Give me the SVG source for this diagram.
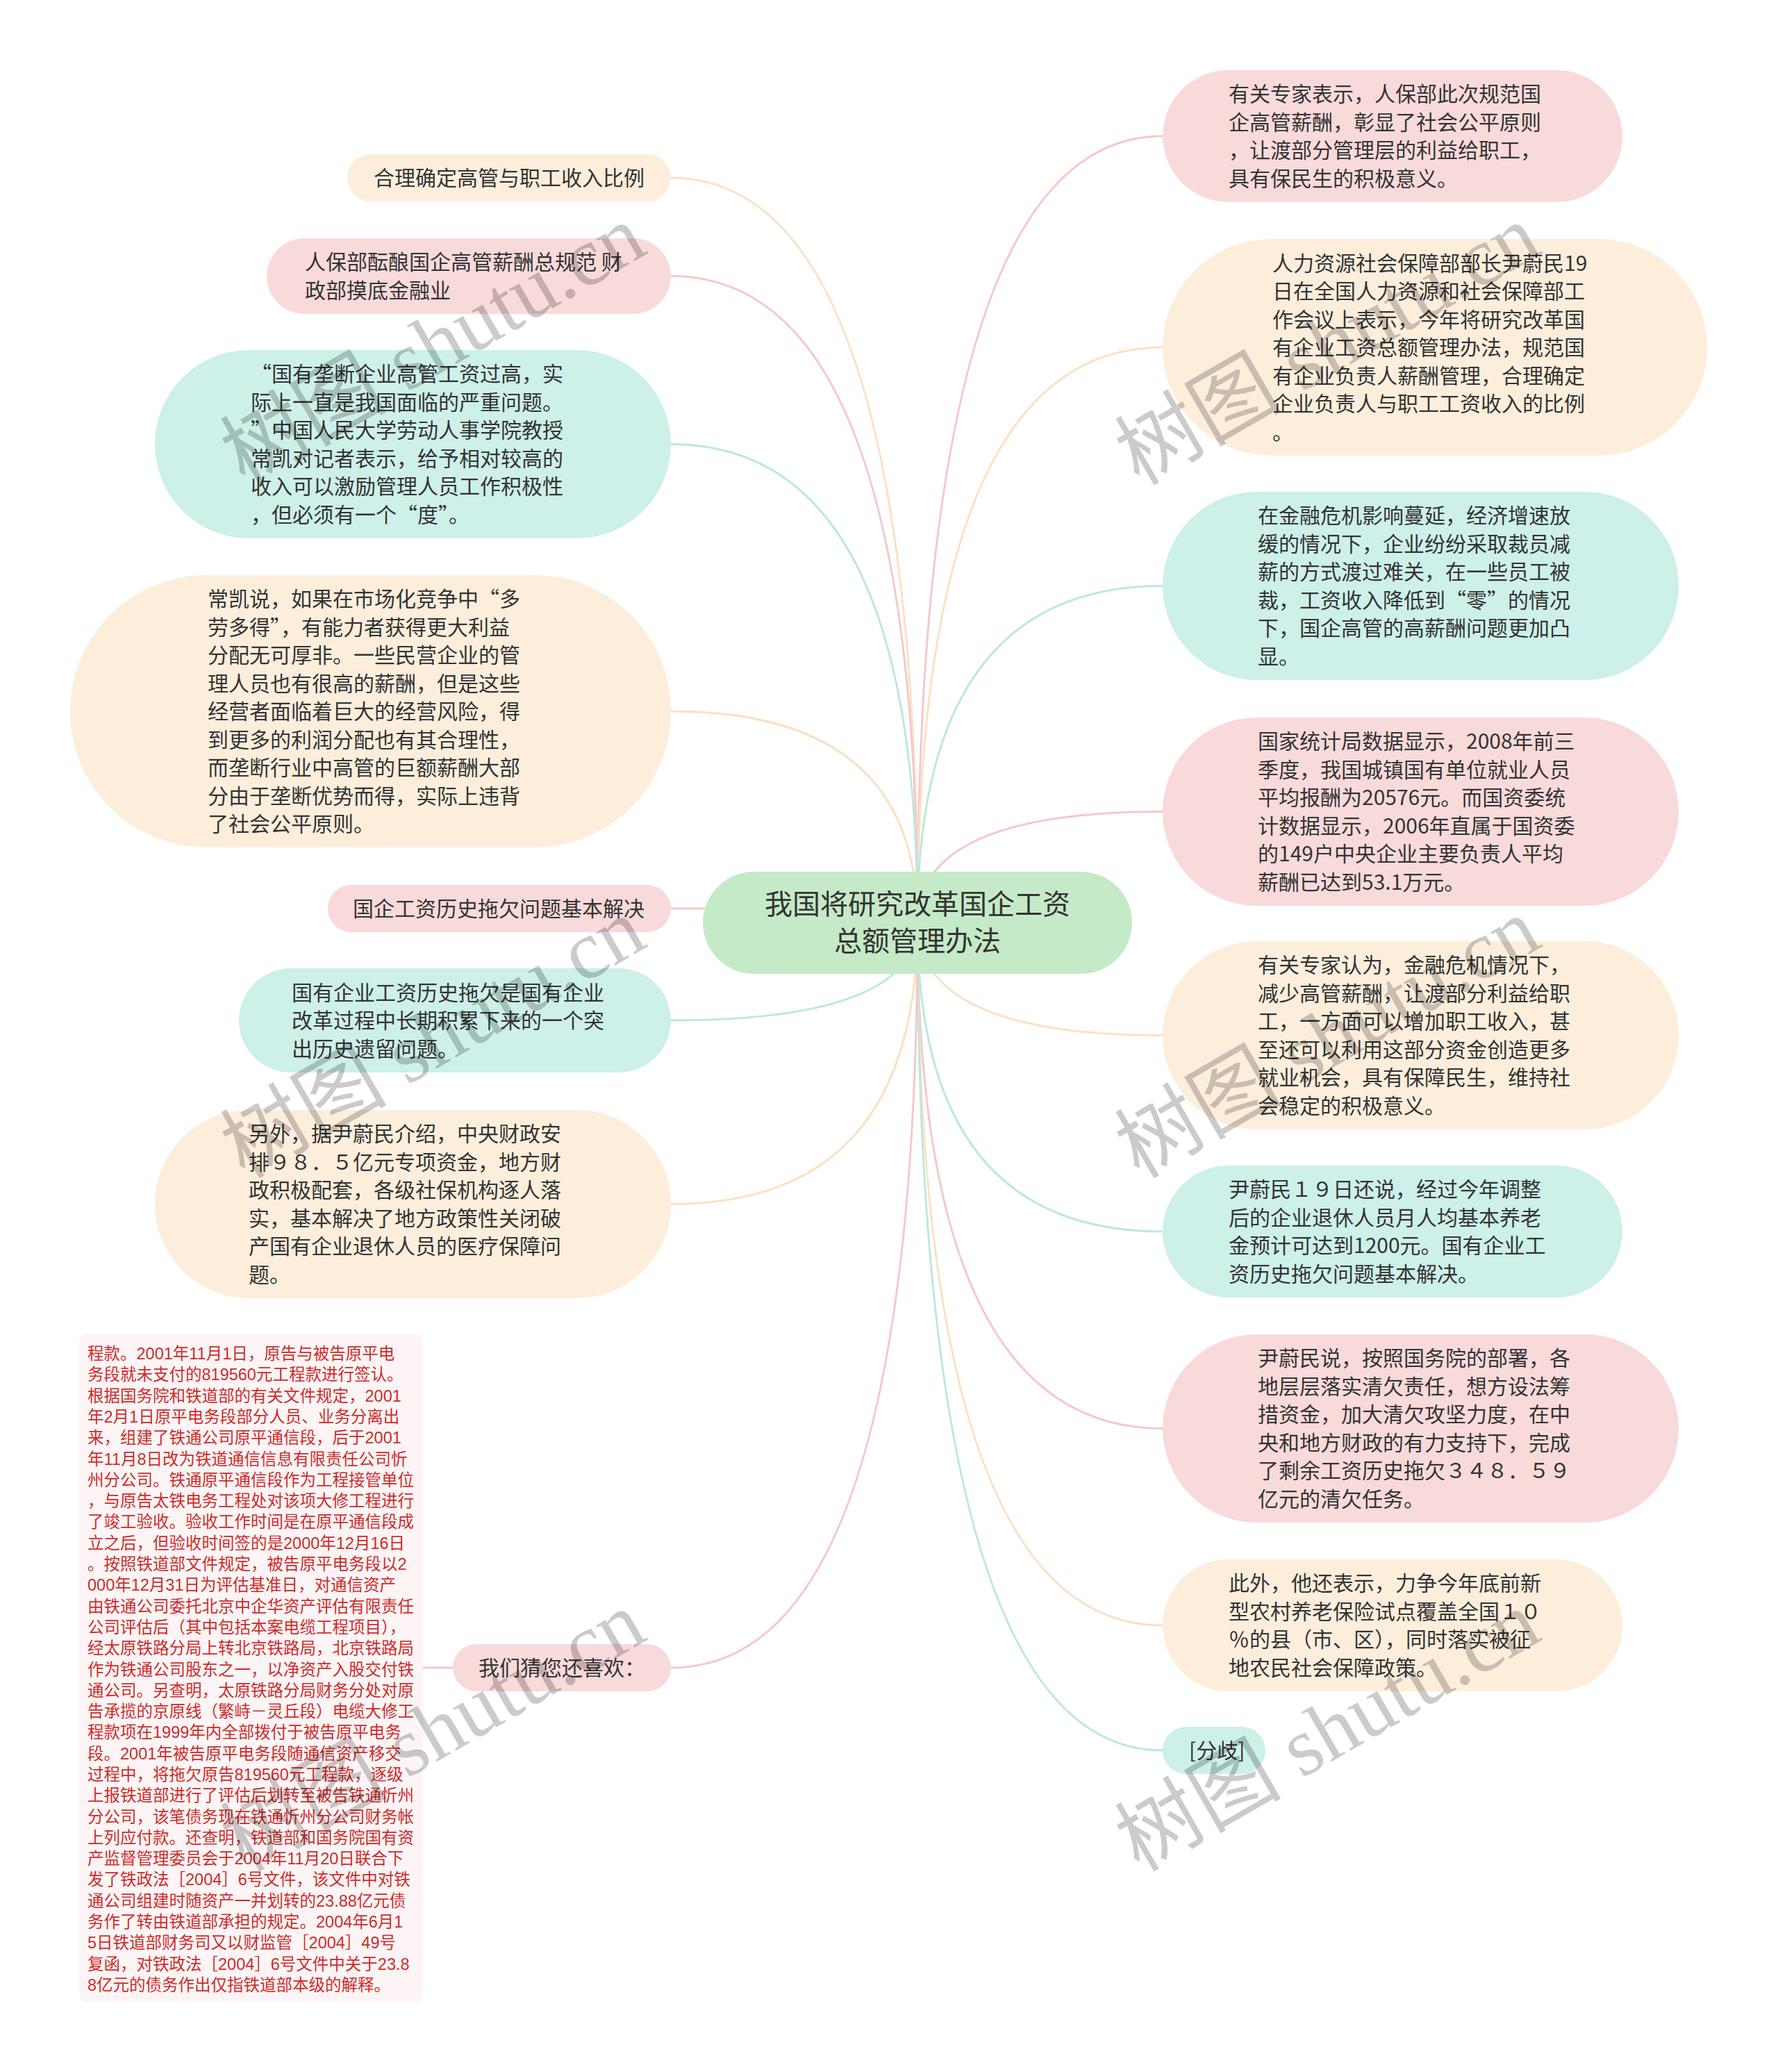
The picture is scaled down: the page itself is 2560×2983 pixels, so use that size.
<svg xmlns="http://www.w3.org/2000/svg" width="2560" height="2983" viewBox="0 0 2560 2983">
<style>
.t{font-family:"Noto Sans CJK SC","Liberation Sans",sans-serif;font-size:30px;fill:#333}
.c{font-family:"Noto Sans CJK SC","Liberation Sans",sans-serif;font-size:40px;fill:#333;text-anchor:middle}
.r{font-family:"Liberation Sans","Noto Sans CJK SC",sans-serif;font-size:23.5px;fill:#cf2b2b}
.pk{fill:#f9dada}.pc{fill:#fdeedc}.tl{fill:#cdf0e9}
.lp{fill:none;stroke:#f6c8c8;stroke-width:3}
.lc{fill:none;stroke:#fbe1c4;stroke-width:3}
.lt{fill:none;stroke:#bce8df;stroke-width:3}
.wm{font-family:"Liberation Serif","Noto Sans CJK SC",serif;font-size:120px;fill:#000;opacity:0.2}
</style>
<rect width="2560" height="2983" fill="#fff"/>
<g id="connectors">
<path class="lp" d="M1321,1328 Q1321,196 1674,196"/>
<path class="lc" d="M1321,1328 Q1321,500 1674,500"/>
<path class="lt" d="M1321,1328 Q1321,843.5 1674,843.5"/>
<path class="lp" d="M1321,1328 Q1321,1168.5 1674,1168.5"/>
<path class="lc" d="M1321,1328 Q1321,1490.5 1674,1490.5"/>
<path class="lt" d="M1321,1328 Q1321,1773 1674,1773"/>
<path class="lp" d="M1321,1328 Q1321,2056.5 1674,2056.5"/>
<path class="lc" d="M1321,1328 Q1321,2340 1674,2340"/>
<path class="lt" d="M1321,1328 Q1321,2520 1674,2520"/>
<path class="lc" d="M1321,1328 Q1321,256 966,256"/>
<path class="lp" d="M1321,1328 Q1321,397.5 966,397.5"/>
<path class="lt" d="M1321,1328 Q1321,639.5 966,639.5"/>
<path class="lc" d="M1321,1328 Q1321,1024 966,1024"/>
<path class="lp" d="M1321,1328 Q1321,1308 966,1308"/>
<path class="lt" d="M1321,1328 Q1321,1469 966,1469"/>
<path class="lc" d="M1321,1328 Q1321,1733.5 966,1733.5"/>
<path class="lp" d="M1321,1328 Q1321,2401 966,2401"/>
<path class="lp" d="M652,2401 L609,2401"/>
</g>
<g id="center">
<rect x="1012" y="1255" width="618" height="147" rx="73.5" fill="#c5eac7"/>
<text class="c" x="1321" y="1316">我国将研究改革国企工资</text>
<text class="c" x="1321" y="1369">总额管理办法</text>
</g>
<g id="r1">
<rect class="pk" x="1674" y="101" width="662" height="190" rx="95"/>
<text class="t" x="1769" y="146.25"><tspan>有关专家表示，人保部此次规范国</tspan><tspan x="1769" dy="40.5">企高管薪酬，彰显了社会公平原则</tspan><tspan x="1769" dy="40.5">，让渡部分管理层的利益给职工，</tspan><tspan x="1769" dy="40.5">具有保民生的积极意义。</tspan></text>
</g>
<g id="r2">
<rect class="pc" x="1674" y="344" width="784" height="312" rx="156"/>
<text class="t" x="1832" y="389.5"><tspan>人力资源社会保障部部长尹蔚民19</tspan><tspan x="1832" dy="40.5">日在全国人力资源和社会保障部工</tspan><tspan x="1832" dy="40.5">作会议上表示，今年将研究改革国</tspan><tspan x="1832" dy="40.5">有企业工资总额管理办法，规范国</tspan><tspan x="1832" dy="40.5">有企业负责人薪酬管理，合理确定</tspan><tspan x="1832" dy="40.5">企业负责人与职工工资收入的比例</tspan><tspan x="1832" dy="40.5">。</tspan></text>
</g>
<g id="r3">
<rect class="tl" x="1674" y="708" width="743" height="271" rx="135.5"/>
<text class="t" x="1811" y="753.25"><tspan>在金融危机影响蔓延，经济增速放</tspan><tspan x="1811" dy="40.5">缓的情况下，企业纷纷采取裁员减</tspan><tspan x="1811" dy="40.5">薪的方式渡过难关，在一些员工被</tspan><tspan x="1811" dy="40.5">裁，工资收入降低到“零”的情况</tspan><tspan x="1811" dy="40.5">下，国企高管的高薪酬问题更加凸</tspan><tspan x="1811" dy="40.5">显。</tspan></text>
</g>
<g id="r4">
<rect class="pk" x="1674" y="1033" width="743" height="271" rx="135.5"/>
<text class="t" x="1811" y="1078.25"><tspan>国家统计局数据显示，2008年前三</tspan><tspan x="1811" dy="40.5">季度，我国城镇国有单位就业人员</tspan><tspan x="1811" dy="40.5">平均报酬为20576元。而国资委统</tspan><tspan x="1811" dy="40.5">计数据显示，2006年直属于国资委</tspan><tspan x="1811" dy="40.5">的149户中央企业主要负责人平均</tspan><tspan x="1811" dy="40.5">薪酬已达到53.1万元。</tspan></text>
</g>
<g id="r5">
<rect class="pc" x="1674" y="1355" width="743" height="271" rx="135.5"/>
<text class="t" x="1811" y="1400.25"><tspan>有关专家认为，金融危机情况下，</tspan><tspan x="1811" dy="40.5">减少高管薪酬，让渡部分利益给职</tspan><tspan x="1811" dy="40.5">工，一方面可以增加职工收入，甚</tspan><tspan x="1811" dy="40.5">至还可以利用这部分资金创造更多</tspan><tspan x="1811" dy="40.5">就业机会，具有保障民生，维持社</tspan><tspan x="1811" dy="40.5">会稳定的积极意义。</tspan></text>
</g>
<g id="r6">
<rect class="tl" x="1674" y="1678" width="662" height="190" rx="95"/>
<text class="t" x="1769" y="1723.25"><tspan>尹蔚民１９日还说，经过今年调整</tspan><tspan x="1769" dy="40.5">后的企业退休人员月人均基本养老</tspan><tspan x="1769" dy="40.5">金预计可达到1200元。国有企业工</tspan><tspan x="1769" dy="40.5">资历史拖欠问题基本解决。</tspan></text>
</g>
<g id="r7">
<rect class="pk" x="1674" y="1921" width="743" height="271" rx="135.5"/>
<text class="t" x="1811" y="1966.25"><tspan>尹蔚民说，按照国务院的部署，各</tspan><tspan x="1811" dy="40.5">地层层落实清欠责任，想方设法筹</tspan><tspan x="1811" dy="40.5">措资金，加大清欠攻坚力度，在中</tspan><tspan x="1811" dy="40.5">央和地方财政的有力支持下，完成</tspan><tspan x="1811" dy="40.5">了剩余工资历史拖欠３４８．５９</tspan><tspan x="1811" dy="40.5">亿元的清欠任务。</tspan></text>
</g>
<g id="r8">
<rect class="pc" x="1674" y="2245" width="662" height="190" rx="95"/>
<text class="t" x="1769" y="2290.25"><tspan>此外，他还表示，力争今年底前新</tspan><tspan x="1769" dy="40.5">型农村养老保险试点覆盖全国１０</tspan><tspan x="1769" dy="40.5">％的县（市、区），同时落实被征</tspan><tspan x="1769" dy="40.5">地农民社会保障政策。</tspan></text>
</g>
<g id="r9">
<rect class="tl" x="1674" y="2486" width="148" height="68" rx="34"/>
<text class="t" x="1712" y="2531">[分歧]</text>
</g>
<g id="l1">
<rect class="pc" x="500" y="222" width="466" height="68" rx="34"/>
<text class="t" x="538" y="267">合理确定高管与职工收入比例</text>
</g>
<g id="l2">
<rect class="pk" x="384" y="343" width="582" height="109" rx="54.5"/>
<text class="t" x="439" y="388.25"><tspan>人保部酝酿国企高管薪酬总规范 财</tspan><tspan x="439" dy="40.5">政部摸底金融业</tspan></text>
</g>
<g id="l3">
<rect class="tl" x="223" y="504" width="743" height="271" rx="135.5"/>
<text class="t" x="361" y="549.25"><tspan>“国有垄断企业高管工资过高，实</tspan><tspan x="361" dy="40.5">际上一直是我国面临的严重问题。</tspan><tspan x="361" dy="40.5">”中国人民大学劳动人事学院教授</tspan><tspan x="361" dy="40.5">常凯对记者表示，给予相对较高的</tspan><tspan x="361" dy="40.5">收入可以激励管理人员工作积极性</tspan><tspan x="361" dy="40.5">，但必须有一个“度”。</tspan></text>
</g>
<g id="l4">
<rect class="pc" x="101" y="828" width="865" height="392" rx="196"/>
<text class="t" x="299" y="873"><tspan>常凯说，如果在市场化竞争中“多</tspan><tspan x="299" dy="40.5">劳多得”，有能力者获得更大利益</tspan><tspan x="299" dy="40.5">分配无可厚非。一些民营企业的管</tspan><tspan x="299" dy="40.5">理人员也有很高的薪酬，但是这些</tspan><tspan x="299" dy="40.5">经营者面临着巨大的经营风险，得</tspan><tspan x="299" dy="40.5">到更多的利润分配也有其合理性，</tspan><tspan x="299" dy="40.5">而垄断行业中高管的巨额薪酬大部</tspan><tspan x="299" dy="40.5">分由于垄断优势而得，实际上违背</tspan><tspan x="299" dy="40.5">了社会公平原则。</tspan></text>
</g>
<g id="l5">
<rect class="pk" x="472" y="1274" width="494" height="68" rx="34"/>
<text class="t" x="508" y="1319">国企工资历史拖欠问题基本解决</text>
</g>
<g id="l6">
<rect class="tl" x="344" y="1394" width="622" height="150" rx="75"/>
<text class="t" x="420" y="1439.5"><tspan>国有企业工资历史拖欠是国有企业</tspan><tspan x="420" dy="40.5">改革过程中长期积累下来的一个突</tspan><tspan x="420" dy="40.5">出历史遗留问题。</tspan></text>
</g>
<g id="l7">
<rect class="pc" x="223" y="1598" width="743" height="271" rx="135.5"/>
<text class="t" x="358" y="1643.25"><tspan>另外，据尹蔚民介绍，中央财政安</tspan><tspan x="358" dy="40.5">排９８．５亿元专项资金，地方财</tspan><tspan x="358" dy="40.5">政积极配套，各级社保机构逐人落</tspan><tspan x="358" dy="40.5">实，基本解决了地方政策性关闭破</tspan><tspan x="358" dy="40.5">产国有企业退休人员的医疗保障问</tspan><tspan x="358" dy="40.5">题。</tspan></text>
</g>
<g id="l8">
<rect class="pk" x="652" y="2367" width="314" height="68" rx="34"/>
<text class="t" x="689" y="2412">我们猜您还喜欢：</text>
</g>
<g id="more">
<rect x="114" y="1920" width="495" height="962" rx="12" fill="#fdf5f5"/>
<text class="r" x="126" y="1957"><tspan>程款。2001年11月1日，原告与被告原平电</tspan><tspan x="126" dy="30.3">务段就未支付的819560元工程款进行签认。</tspan><tspan x="126" dy="30.3">根据国务院和铁道部的有关文件规定，2001</tspan><tspan x="126" dy="30.3">年2月1日原平电务段部分人员、业务分离出</tspan><tspan x="126" dy="30.3">来，组建了铁通公司原平通信段，后于2001</tspan><tspan x="126" dy="30.3">年11月8日改为铁道通信信息有限责任公司忻</tspan><tspan x="126" dy="30.3">州分公司。铁通原平通信段作为工程接管单位</tspan><tspan x="126" dy="30.3">，与原告太铁电务工程处对该项大修工程进行</tspan><tspan x="126" dy="30.3">了竣工验收。验收工作时间是在原平通信段成</tspan><tspan x="126" dy="30.3">立之后，但验收时间签的是2000年12月16日</tspan><tspan x="126" dy="30.3">。按照铁道部文件规定，被告原平电务段以2</tspan><tspan x="126" dy="30.3">000年12月31日为评估基准日，对通信资产</tspan><tspan x="126" dy="30.3">由铁通公司委托北京中企华资产评估有限责任</tspan><tspan x="126" dy="30.3">公司评估后（其中包括本案电缆工程项目），</tspan><tspan x="126" dy="30.3">经太原铁路分局上转北京铁路局，北京铁路局</tspan><tspan x="126" dy="30.3">作为铁通公司股东之一，以净资产入股交付铁</tspan><tspan x="126" dy="30.3">通公司。另查明，太原铁路分局财务分处对原</tspan><tspan x="126" dy="30.3">告承揽的京原线（繁峙－灵丘段）电缆大修工</tspan><tspan x="126" dy="30.3">程款项在1999年内全部拨付于被告原平电务</tspan><tspan x="126" dy="30.3">段。2001年被告原平电务段随通信资产移交</tspan><tspan x="126" dy="30.3">过程中，将拖欠原告819560元工程款，逐级</tspan><tspan x="126" dy="30.3">上报铁道部进行了评估后划转至被告铁通忻州</tspan><tspan x="126" dy="30.3">分公司，该笔债务现在铁通忻州分公司财务帐</tspan><tspan x="126" dy="30.3">上列应付款。还查明，铁道部和国务院国有资</tspan><tspan x="126" dy="30.3">产监督管理委员会于2004年11月20日联合下</tspan><tspan x="126" dy="30.3">发了铁政法［2004］6号文件，该文件中对铁</tspan><tspan x="126" dy="30.3">通公司组建时随资产一并划转的23.88亿元债</tspan><tspan x="126" dy="30.3">务作了转由铁道部承担的规定。2004年6月1</tspan><tspan x="126" dy="30.3">5日铁道部财务司又以财监管［2004］49号</tspan><tspan x="126" dy="30.3">复函，对铁政法［2004］6号文件中关于23.8</tspan><tspan x="126" dy="30.3">8亿元的债务作出仅指铁道部本级的解释。</tspan></text>
</g>
<g id="watermarks">
<text class="wm" transform="translate(352,700) rotate(-30)">树图 shutu.cn</text>
<text class="wm" transform="translate(1640,700) rotate(-30)">树图 shutu.cn</text>
<text class="wm" transform="translate(352,1698) rotate(-30)">树图 shutu.cn</text>
<text class="wm" transform="translate(1640,1698) rotate(-30)">树图 shutu.cn</text>
<text class="wm" transform="translate(352,2696) rotate(-30)">树图 shutu.cn</text>
<text class="wm" transform="translate(1640,2696) rotate(-30)">树图 shutu.cn</text>
</g>
</svg>
